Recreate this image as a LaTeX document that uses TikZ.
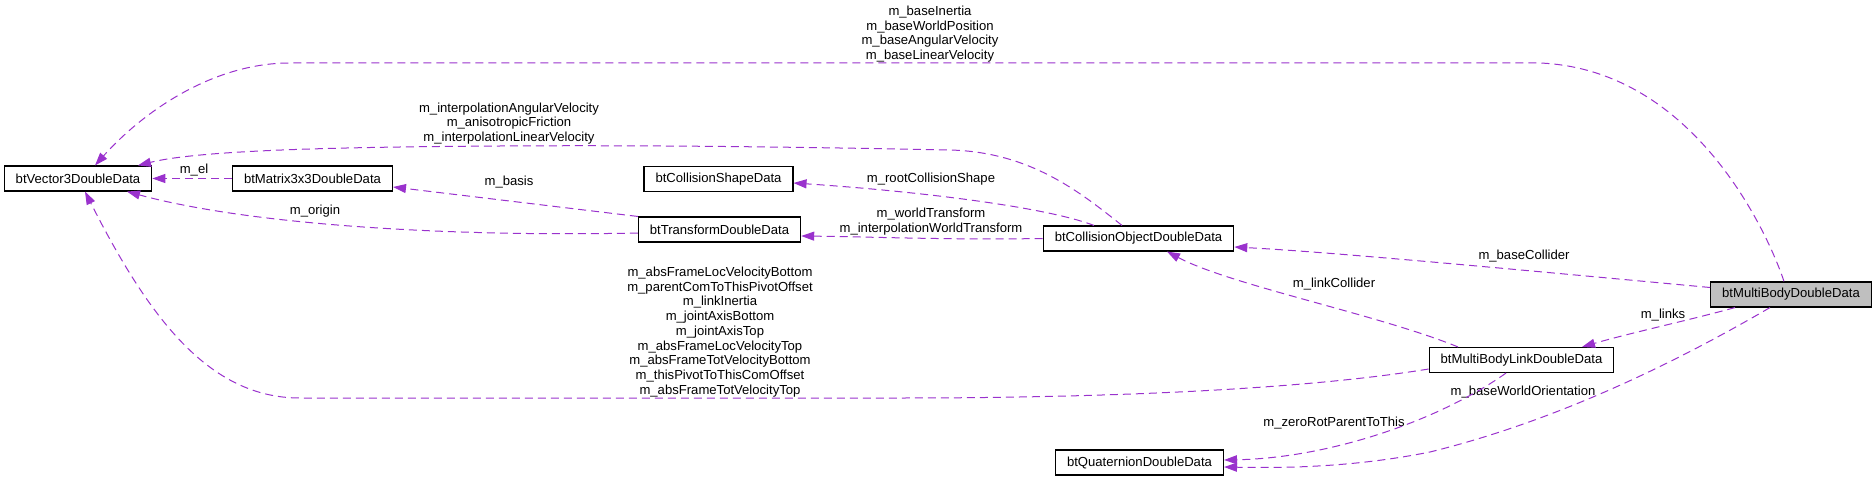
\documentclass[tikz,border=0pt]{standalone}
\usepackage{fontspec}
\setmainfont{Liberation Sans}
\usetikzlibrary{arrows.meta}
\definecolor{orchid}{RGB}{154,50,205}
\definecolor{rootgray}{RGB}{191,191,191}

\begin{document}
\begin{tikzpicture}[x=1pt,y=-1pt,
  classbox/.style={draw=black,line width=1.1pt,fill=white,inner xsep=11.5pt,inner ysep=0pt,minimum height=25pt,font=\fontsize{13.1}{14.7}\selectfont},
  edgelabel/.style={inner sep=0pt,align=center,font=\fontsize{13.1}{14.7}\selectfont},
  memberedge/.style={draw=orchid,line width=1pt,dash pattern=on 8pt off 5pt,-{Triangle[length=13pt,width=9pt,fill=orchid]}}]
\path[use as bounding box] (0,0) rectangle (1876,481);
\node[classbox] (v3) at (78,178.5) {btVector3DoubleData};
\node[classbox] (m33) at (312.5,178.5) {btMatrix3x3DoubleData};
\node[classbox] (csd) at (718.5,179) {btCollisionShapeData};
\node[classbox] (tdd) at (719.5,229.5) {btTransformDoubleData};
\node[classbox] (cod) at (1138.5,238.5) {btCollisionObjectDoubleData};
\node[classbox,fill=rootgray] (mbd) at (1791,294.5) {btMultiBodyDoubleData};
\node[classbox] (mbld) at (1521.5,360) {btMultiBodyLinkDoubleData};
\node[classbox] (qdd) at (1139.5,462.5) {btQuaternionDoubleData};
\node[edgelabel] (lbase) at (930,34) {m\_baseInertia\\m\_baseWorldPosition\\m\_baseAngularVelocity\\m\_baseLinearVelocity};
\node[edgelabel] (linterp) at (509,123.5) {m\_interpolationAngularVelocity\\m\_anisotropicFriction\\m\_interpolationLinearVelocity};
\node[edgelabel] (lel) at (194,170) {m\_el};
\node[edgelabel] (lbasis) at (509,182) {m\_basis};
\node[edgelabel] (lorigin) at (315,211) {m\_origin};
\node[edgelabel] (lroot) at (931,179) {m\_rootCollisionShape};
\node[edgelabel] (lworld) at (931,221.5) {m\_worldTransform\\m\_interpolationWorldTransform};
\node[edgelabel] (lbasecoll) at (1524,256) {m\_baseCollider};
\node[edgelabel] (llinkcoll) at (1334,284) {m\_linkCollider};
\node[edgelabel] (llinks) at (1663,315) {m\_links};
\node[edgelabel] (ljoint) at (720,332) {m\_absFrameLocVelocityBottom\\m\_parentComToThisPivotOffset\\m\_linkInertia\\m\_jointAxisBottom\\m\_jointAxisTop\\m\_absFrameLocVelocityTop\\m\_absFrameTotVelocityBottom\\m\_thisPivotToThisComOffset\\m\_absFrameTotVelocityTop};
\node[edgelabel] (lorient) at (1523,392) {m\_baseWorldOrientation};
\node[edgelabel] (lzero) at (1334,423) {m\_zeroRotParentToThis};
\draw[memberedge] ([xshift=-7pt]mbd.north) .. controls (1772,245) and (1700,70) .. (1540,63) -- (290,63) .. controls (210,63) and (140,115) .. ([xshift=17pt]v3.north);
\draw[memberedge] ([xshift=-16.5pt]cod.north) .. controls (1080,192) and (1030,152) .. (950,150) .. controls (800,147) and (650,145) .. (500,146) .. controls (340,147) and (200,150) .. ([xshift=60pt]v3.north);
\draw[memberedge] (m33.west) -- (v3.east);
\draw[memberedge] (tdd.north west) -- ([yshift=-8.5pt]m33.east);
\draw[memberedge] ([yshift=-3.5pt]tdd.west) .. controls (450,237) and (250,225) .. ([xshift=49pt]v3.south);
\draw[memberedge] ([xshift=-44.5pt]cod.north) .. controls (1040,205) and (900,190) .. ([yshift=-4pt]csd.east);
\draw[memberedge] (cod.west) .. controls (950,240) and (880,237) .. ([yshift=-6.5pt]tdd.east);
\draw[memberedge] ([yshift=7pt]mbd.west) .. controls (1500,268) and (1330,252) .. ([yshift=-8.5pt]cod.east);
\draw[memberedge] ([xshift=-63.5pt]mbld.north) .. controls (1380,315) and (1230,285) .. ([xshift=28.5pt]cod.south);
\draw[memberedge] ([xshift=-56pt]mbd.south) .. controls (1690,320) and (1630,333) .. ([xshift=60.5pt]mbld.north);
\draw[memberedge] ([yshift=-9pt]mbld.west) .. controls (1300,390) and (1100,398) .. (900,398) -- (300,398) .. controls (210,398) and (150,320) .. ([xshift=7pt]v3.south);
\draw[memberedge] ([xshift=-21pt]mbd.south) .. controls (1680,360) and (1560,420) .. (1430,452) .. controls (1350,468) and (1280,468) .. ([yshift=-4.5pt]qdd.east);
\draw[memberedge] ([xshift=-15.5pt]mbld.south) .. controls (1440,420) and (1330,458) .. ([yshift=2.5pt]qdd.east);
\end{tikzpicture}
\end{document}
